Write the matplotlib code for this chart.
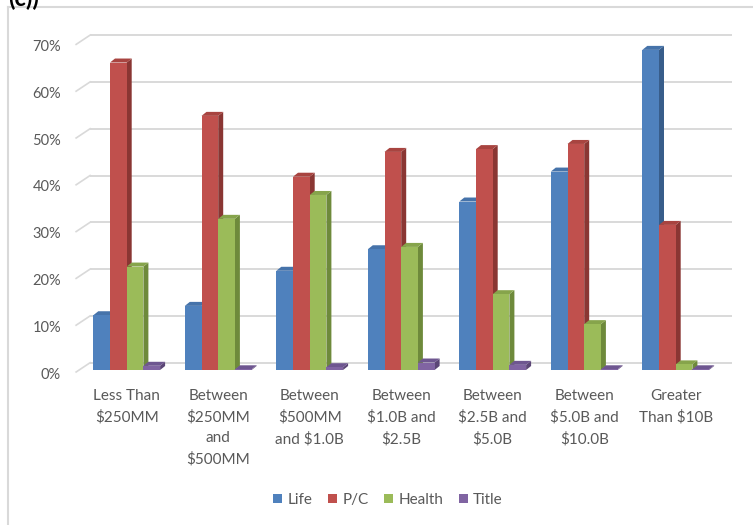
import matplotlib
matplotlib.use("Agg")
import matplotlib.pyplot as plt
from matplotlib.patches import Polygon, Patch
from matplotlib.lines import Line2D
import numpy as np

plt.rcParams['font.family'] = ['Lato', 'DejaVu Sans']

# ---- data (percent of companies) ----
categories = [
    "Less Than\n$250MM",
    "Between\n$250MM\nand\n$500MM",
    "Between\n$500MM\nand $1.0B",
    "Between\n$1.0B and\n$2.5B",
    "Between\n$2.5B and\n$5.0B",
    "Between\n$5.0B and\n$10.0B",
    "Greater\nThan $10B",
]
series_names = ["Life", "P/C", "Health", "Title"]
life = [11.7, 13.7, 21.2, 25.8, 36.0, 42.4, 68.4]
pc = [65.7, 54.3, 41.3, 46.6, 47.2, 48.3, 31.0]
health = [22.1, 32.3, 37.4, 26.3, 16.2, 9.8, 1.2]
title = [0.9, 0.15, 0.6, 1.6, 1.1, 0.15, 0.15]
yticks = [0, 10, 20, 30, 40, 50, 60, 70]

series = [life, pc, health, title]
front_colors = ["#4F81BD", "#C0504D", "#9BBB59", "#8064A2"]
side_colors = ["#385D8A", "#8A3633", "#6E8A3B", "#5B4676"]
top_colors = ["#4673AA", "#A84440", "#86A44B", "#6E5690"]

# ---- layout (pixels) ----
W, H, DPI = 753, 525, 100
ax_left, ax_right, ax_top, ax_bottom = 60, 740, 20, 380
px_per_x = 91.5            # pixels per category step
px_per_y = 4.68            # pixels per percent
x_at_left = (ax_left - 126.7) / px_per_x
y_at_bottom = (370 - ax_bottom) / px_per_y

fig = plt.figure(figsize=(W / DPI, H / DPI), dpi=DPI)
fig.patch.set_facecolor("white")
ax = fig.add_axes([ax_left / W, 1 - ax_bottom / H,
                   (ax_right - ax_left) / W, (ax_bottom - ax_top) / H])
ax.set_xlim(x_at_left, x_at_left + (ax_right - ax_left) / px_per_x)
ax.set_ylim(y_at_bottom, y_at_bottom + (ax_bottom - ax_top) / px_per_y)
ax.set_axis_off()

DX = 1.0 / px_per_x   # one pixel in x data units
DY = 1.0 / px_per_y   # one pixel in y data units

grid_color = "#D9D9D9"
text_color = "#595959"

# floor extent in the bars' plane
XL, XR = -0.52, 6.49
back_dx, back_dy = 11 * DX, 7.3 * DY
front_dx, front_dy = -3 * DX, -2 * DY

# back-wall gridlines with the short receding ticks
for g in yticks:
    ax.plot([XL + back_dx, XR + back_dx], [g + back_dy, g + back_dy],
            color=grid_color, lw=1.4, zorder=1, solid_capstyle="butt")
    ax.plot([XL + front_dx, XL + back_dx], [g + front_dy, g + back_dy],
            color=grid_color, lw=1.2, zorder=1)
    ax.text(XL - 18 * DX, g - 1.0, f"{g}%", ha="right", va="center",
            fontsize=10.5, color=text_color)

# 3-D looking columns: side, top and front faces
bw = 16.7 * DX
depth_x, depth_y = 5 * DX, 4 * DY
n = len(series)
z = 2
for i in range(len(categories)):
    for j, vals in enumerate(series):
        v = vals[i]
        left = i + (j - n / 2) * bw
        right = left + bw
        side = Polygon([(right, 0), (right, v), (right + depth_x, v + depth_y),
                        (right + depth_x, depth_y)], closed=True,
                       facecolor=side_colors[j], edgecolor="none", zorder=z)
        top = Polygon([(left, v), (right, v), (right + depth_x, v + depth_y),
                       (left + depth_x, v + depth_y)], closed=True,
                      facecolor=top_colors[j], edgecolor="none", zorder=z)
        ax.add_patch(side)
        ax.add_patch(top)
        ax.bar(left, v, width=bw, align="edge", color=front_colors[j],
               edgecolor="none", zorder=z + 0.5)
        z += 1

# category labels
for i, lab in enumerate(categories):
    ax.text(i, (370 - 389.5) / px_per_y, lab, ha="center", va="top",
            multialignment="center", fontsize=11, color=text_color,
            linespacing=1.6)

# legend
handles = [Patch(facecolor=c, edgecolor="none") for c in front_colors]
leg = fig.legend(handles, series_names, loc="center", ncol=4,
                 bbox_to_anchor=(388 / W, 1 - 500 / H), frameon=False,
                 fontsize=11, handlelength=0.6, handleheight=0.6,
                 handletextpad=0.35, columnspacing=1.0)
for t in leg.get_texts():
    t.set_color(text_color)

# chart frame (left and top edges)
fig.add_artist(Line2D([7.5 / W, 7.5 / W], [0, 1 - 7 / H],
                      transform=fig.transFigure, color=grid_color, lw=1.5))
fig.add_artist(Line2D([7.5 / W, 1], [1 - 7 / H, 1 - 7 / H],
                      transform=fig.transFigure, color=grid_color, lw=1.5))

# heading running off the top edge
fig.text(8 / W, 1 - 6 / H, "(c))", fontsize=17, fontweight="bold",
         color="black", ha="left", va="baseline")

fig.savefig("out.png", dpi=DPI)
